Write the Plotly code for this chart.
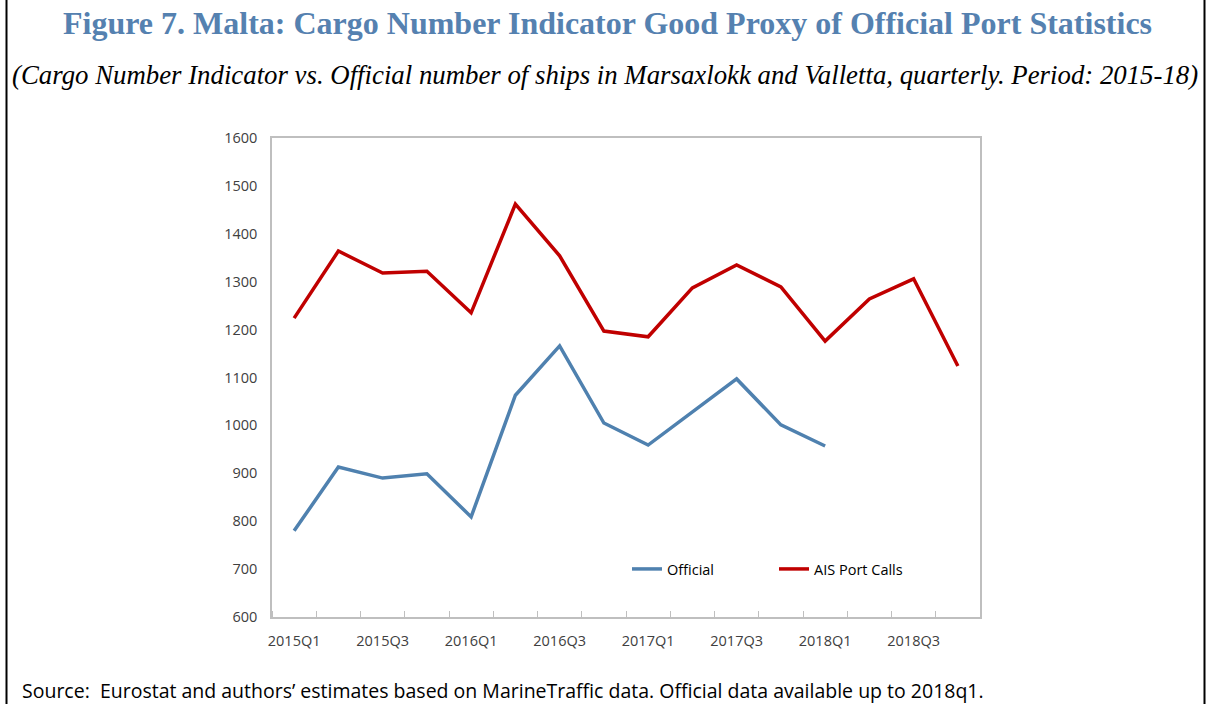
import plotly.graph_objects as go

quarters = ["2015Q1", "2015Q2", "2015Q3", "2015Q4",
            "2016Q1", "2016Q2", "2016Q3", "2016Q4",
            "2017Q1", "2017Q2", "2017Q3", "2017Q4",
            "2018Q1", "2018Q2", "2018Q3", "2018Q4"]
official = [780, 913, 890, 899, 809, 1063, 1166, 1005, 959, 1028, 1097, 1001, 957,
            None, None, None]
ais_port_calls = [1224, 1364, 1318, 1322, 1235, 1462, 1354, 1197, 1185, 1287, 1335,
                  1289, 1176, 1264, 1306, 1124]
y_ticks = [600, 700, 800, 900, 1000, 1100, 1200, 1300, 1400, 1500, 1600]

x_idx = list(range(len(quarters)))
label_idx = x_idx[::2]
label_text = quarters[::2]

L, R, T, B = 272, 980, 138, 617
PW, PH = R - L, B - T


def px(x):
    return (x - L) / PW


def py(y):
    return (B - y) / PH


fig = go.Figure()
fig.add_trace(go.Scatter(x=x_idx, y=official, mode="lines", name="Official",
                         line=dict(color="#4F81AF", width=3.5), connectgaps=False))
fig.add_trace(go.Scatter(x=x_idx, y=ais_port_calls, mode="lines", name="AIS Port Calls",
                         line=dict(color="#C00000", width=3.5)))

fig.update_layout(
    width=1212, height=704,
    margin=dict(l=L, r=1212 - R, t=T, b=704 - B),
    paper_bgcolor="white", plot_bgcolor="white",
    showlegend=True,
    legend=dict(orientation="h", x=px(627), y=py(569), xanchor="left", yanchor="middle",
                font=dict(family="Open Sans", size=14.5, color="#000000"),
                bgcolor="rgba(0,0,0,0)", itemwidth=30, tracegroupgap=0,
                entrywidth=102),
    xaxis=dict(range=[-0.5, 15.5], tickmode="array", tickvals=label_idx,
               ticktext=label_text, ticks="", showgrid=False, zeroline=False,
               showline=True, linecolor="#BFBFBF", linewidth=1.5, mirror=True,
               ticklabelstandoff=10,
               tickfont=dict(family="Open Sans", size=14.5, color="#404040"),
               minor=dict(tick0=0.5, dtick=1, ticks="inside", ticklen=6,
                          tickcolor="#BFBFBF", tickwidth=1, showgrid=False)),
    yaxis=dict(range=[600, 1600], tickmode="array", tickvals=y_ticks, ticks="",
               showgrid=False, zeroline=False, showline=True, linecolor="#BFBFBF",
               linewidth=1.5, mirror=True, ticklabelstandoff=10,
               tickfont=dict(family="Open Sans", size=14.5, color="#404040")),
)

fig.add_annotation(text="<b>Figure 7. Malta: Cargo Number Indicator Good Proxy of Official Port Statistics</b>",
                   xref="paper", yref="paper", x=px(607), y=py(23),
                   xanchor="center", yanchor="middle", showarrow=False,
                   font=dict(family="Liberation Serif", size=32, color="#5581B0"))
fig.add_annotation(text="<i>(Cargo Number Indicator vs. Official number of ships in Marsaxlokk and Valletta, quarterly. Period: 2015-18)</i>",
                   xref="paper", yref="paper", x=px(605), y=py(75),
                   xanchor="center", yanchor="middle", showarrow=False,
                   font=dict(family="Liberation Serif", size=26.8, color="#000000"))
fig.add_annotation(text="Source:  Eurostat and authors\u2019 estimates based on MarineTraffic data. Official data available up to 2018q1.",
                   xref="paper", yref="paper", x=px(20), y=py(690),
                   xanchor="left", yanchor="middle", showarrow=False,
                   font=dict(family="Open Sans", size=19.5, color="#000000"))

# figure frame (left and right rules)
for xf in (6.5, 1204.5):
    fig.add_shape(type="line", xref="paper", yref="paper",
                  x0=px(xf), x1=px(xf), y0=py(704), y1=py(0),
                  line=dict(color="#000000", width=2))

fig.write_html("out.html", config={"displayModeBar": False},
               post_script="document.body.style.margin='0';")
